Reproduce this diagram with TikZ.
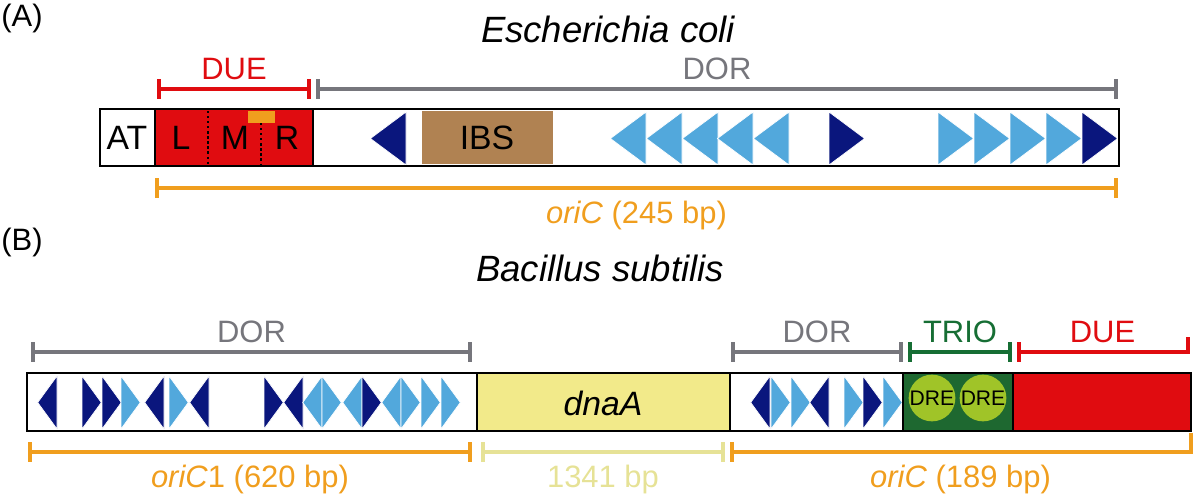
\documentclass[tikz,border=0pt]{standalone}
\usepackage{fontspec}
\setmainfont{Liberation Sans}
\usetikzlibrary{arrows.meta}

\definecolor{duered}{RGB}{224,12,16}
\definecolor{dorgrey}{RGB}{118,118,124}
\definecolor{oriorange}{RGB}{240,158,30}
\definecolor{boxnavy}{RGB}{10,22,125}
\definecolor{boxblue}{RGB}{82,168,220}
\definecolor{ibsbrown}{RGB}{176,130,82}
\definecolor{dnaayellow}{RGB}{242,234,138}
\definecolor{dnaapale}{RGB}{230,226,150}
\definecolor{triogreen}{RGB}{22,110,52}
\definecolor{triobox}{RGB}{30,104,48}
\definecolor{drelime}{RGB}{160,196,40}

\tikzset{
    lbl/.style={inner sep=0pt, font=\fontsize{22}{26}\selectfont},
    ttl/.style={inner sep=0pt, font=\fontsize{26}{30}\selectfont\itshape},
    inbox/.style={inner sep=0pt, font=\fontsize{24}{28}\selectfont},
    bracketline/.style={line width=2.8pt, {Bar[width=14pt]}-{Bar[width=14pt]}},
    hookline/.style={line width=2.8pt, {Bar[width=14pt]}-},
    frame/.style={draw=black, line width=2.1pt},
    tri/.style={draw=white, line width=0.5pt},
    dre/.style={circle, fill=drelime, minimum size=32pt, inner sep=0pt, font=\fontsize{15}{17}\selectfont},
}

\begin{document}
\begin{tikzpicture}[x=0.025cm, y=-0.025cm]
    \useasboundingbox (0,0) rectangle (1200,499);

    % (A) E. coli
    \node[lbl] (tagA) at (22,18) {(A)};
    \node[ttl] (titleA) at (608,29) {Escherichia coli};

    \fill[duered] (155,109) rectangle (313,166);
    \fill[ibsbrown] (422,111) rectangle (553,164);
    \fill[oriorange] (248,111) rectangle (275,123);
    \foreach \b/\d/\c in {406/-1/boxnavy, 646/-1/boxblue, 682/-1/boxblue, 718/-1/boxblue,
            753/-1/boxblue, 789/-1/boxblue, 829/1/boxnavy, 938/1/boxblue, 974/1/boxblue,
            1010/1/boxblue, 1046/1/boxblue, 1082/1/boxnavy}
        \filldraw[tri, fill=\c] (\b,112) -- ++(\d*35.6,26.5) -- (\b,165) -- cycle;
    \draw[line width=1.6pt, dash pattern=on 1.6pt off 2pt] (208,111) -- (208,164) (261,123) -- (261,164);
    \draw[frame] (100,109) rectangle (1119,166);
    \draw[frame] (155,109) -- (155,166) (313,109) -- (313,166);

    \node[inbox] (at) at (127,138) {AT};
    \node[inbox] (l) at (181,138) {L};
    \node[inbox] (m) at (235,138) {M};
    \node[inbox] (r) at (287,138) {R};
    \node[inbox] (ibs) at (487,138) {IBS};

    \draw[bracketline, duered] (157,89) -- node[lbl, above=5pt, text=duered] (dueA) {DUE} (311,89);
    \draw[bracketline, dorgrey] (316,89) -- node[lbl, above=5pt, text=dorgrey] (dorA) {DOR} (1118,89);
    \draw[bracketline, oriorange] (155,188) -- node[lbl, below=8pt, text=oriorange] (oriA) {\textit{oriC} (245 bp)} (1118,188);

    % (B) B. subtilis
    \node[lbl] (tagB) at (22,242) {(B)};
    \node[ttl] (titleB) at (600,268) {Bacillus subtilis};

    \fill[dnaayellow] (477,373) rectangle (730,431);
    \fill[triobox] (903,373) rectangle (1013,431);
    \fill[duered] (1013,373) rectangle (1191,431);
    \foreach \b/\d/\c in {57/-1/boxnavy, 82/1/boxnavy, 102/1/boxnavy, 121/1/boxblue,
            164/-1/boxnavy, 169/1/boxblue, 209/-1/boxnavy, 264/1/boxnavy, 303/-1/boxnavy,
            322/-1/boxblue, 322/1/boxblue, 362/-1/boxblue, 362/1/boxnavy, 401/-1/boxblue,
            401/1/boxblue, 421/1/boxblue, 441/1/boxblue,
            770/-1/boxnavy, 771/1/boxblue, 791/1/boxblue, 829/-1/boxnavy, 844/1/boxblue,
            863/1/boxnavy, 883/1/boxblue}
        \filldraw[tri, fill=\c] (\b,376) -- ++(\d*19.3,26.5) -- (\b,429) -- cycle;
    \node[dre] (dre1) at (932,398) {DRE};
    \node[dre] (dre2) at (983,398) {DRE};
    \draw[frame] (27,373) rectangle (1191,431);
    \draw[frame] (477,373) -- (477,431) (730,373) -- (730,431)
        (903,373) -- (903,431) (1013,373) -- (1013,431);

    \node[inbox] (dnaa) at (603,403) {\itshape dnaA};

    \draw[bracketline, dorgrey] (31,352) -- node[lbl, above=5pt, text=dorgrey] (dorB1) {DOR} (472,352);
    \draw[bracketline, dorgrey] (731,352) -- node[lbl, above=5pt, text=dorgrey] (dorB2) {DOR} (903,352);
    \draw[bracketline, triogreen] (908,352) -- node[lbl, above=5pt, text=triogreen] (trio) {TRIO} (1012,352);
    \draw[hookline, duered] (1017,352) -- node[lbl, above=5pt, text=duered] (dueB) {DUE} (1188,352) -- ++(0,-15);

    \draw[bracketline, oriorange] (28,452) -- node[lbl, below=8pt, text=oriorange] (ori1) {\textit{oriC}1 (620 bp)} (472,452);
    \draw[bracketline, dnaapale] (481,452) -- node[lbl, below=8pt, text=dnaapale] (len) {1341 bp} (725,452);
    \draw[hookline, oriorange] (730,452) -- node[lbl, below=8pt, text=oriorange] (oriB) {\textit{oriC} (189 bp)} (1191,452) -- ++(0,-19);
\end{tikzpicture}
\end{document}
